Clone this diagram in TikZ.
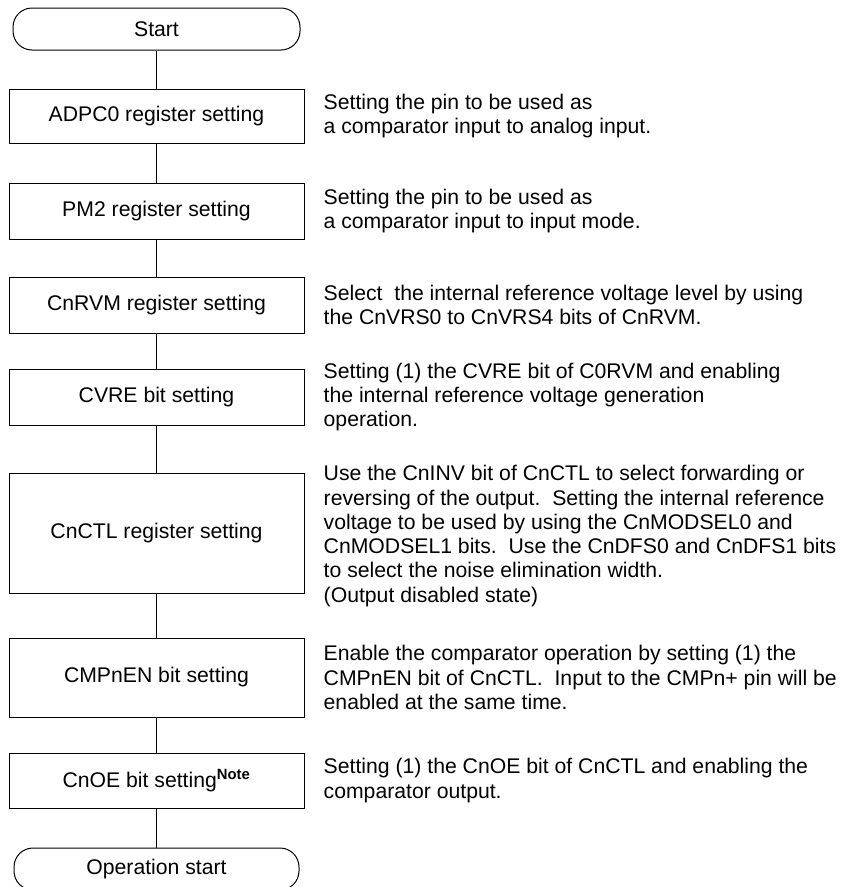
\documentclass[tikz,border=0pt]{standalone}
\usepackage{fontspec}
\setmainfont{Liberation Sans}
\begin{document}
\begin{tikzpicture}[x=1pt,y=-1pt,
  every node/.style={font=\fontsize{21.2}{24.3}\selectfont},
  procbox/.style={draw, line width=1pt, minimum width=295pt, inner sep=0pt},
  termbox/.style={draw, line width=1pt, rounded corners=19pt, minimum width=287pt, minimum height=42pt, inner sep=0pt},
  note/.style={anchor=west, align=left, inner sep=0pt},
  link/.style={line width=1pt}]
\useasboundingbox (0,0) rectangle (842,887);
\begin{scope}
\clip (0,0) rectangle (842,887);
\node[termbox] (start) at (156.5,29) {Start};
\node[procbox, minimum height=54pt] (adpc) at (156.5,116) {ADPC0 register setting};
\node[procbox, minimum height=56pt] (pm2) at (156.5,211) {PM2 register setting};
\node[procbox, minimum height=56pt] (rvm) at (156.5,305) {CnRVM register setting};
\node[procbox, minimum height=56pt] (cvre) at (156.5,397) {CVRE bit setting};
\node[procbox, minimum height=120pt] (ctl) at (156.5,533) {CnCTL register setting};
\node[procbox, minimum height=79pt] (cmp) at (156.5,677.5) {CMPnEN bit setting};
\node[procbox, minimum height=55pt] (oe) at (156.5,780.5) {CnOE bit setting\textsuperscript{\bfseries Note}};
\node[termbox, minimum width=285pt] (op) at (156.5,869) {Operation start};

\draw[link] (start) -- (adpc);
\draw[link] (adpc) -- (pm2);
\draw[link] (pm2) -- (rvm);
\draw[link] (rvm) -- (cvre);
\draw[link] (cvre) -- (ctl);
\draw[link] (ctl) -- (cmp);
\draw[link] (cmp) -- (oe);
\draw[link] (oe) -- (op);
\end{scope}

\node[note] (t1) at ([xshift=19pt]adpc.east) {Setting the pin to be used as\\a comparator input to analog input.};
\node[note] (t2) at ([xshift=19pt]pm2.east) {Setting the pin to be used as\\a comparator input to input mode.};
\node[note] (t3) at ([xshift=19pt]rvm.east) {Select\ \ the internal reference voltage level by using\\the CnVRS0 to CnVRS4 bits of CnRVM.};
\node[note] (t4) at ([xshift=19pt]cvre.east) {Setting (1) the CVRE bit of C0RVM and enabling\\the internal reference voltage generation\\operation.};
\node[note] (t5) at ([xshift=19pt,yshift=-3pt]ctl.east) {Use the CnINV bit of CnCTL to select forwarding or\\reversing of the output.\ \ Setting the internal reference\\voltage to be used by using the CnMODSEL0 and\\CnMODSEL1 bits.\ \ Use the CnDFS0 and CnDFS1 bits\\to select the noise elimination width.\\(Output disabled state)};
\node[note] (t6) at ([xshift=19pt]cmp.east) {Enable the comparator operation by setting (1) the\\CMPnEN bit of CnCTL.\ \ Input to the CMPn+ pin will be\\enabled at the same time.};
\node[note] (t7) at ([xshift=19pt]oe.east) {Setting (1) the CnOE bit of CnCTL and enabling the\\comparator output.};
\end{tikzpicture}
\end{document}
